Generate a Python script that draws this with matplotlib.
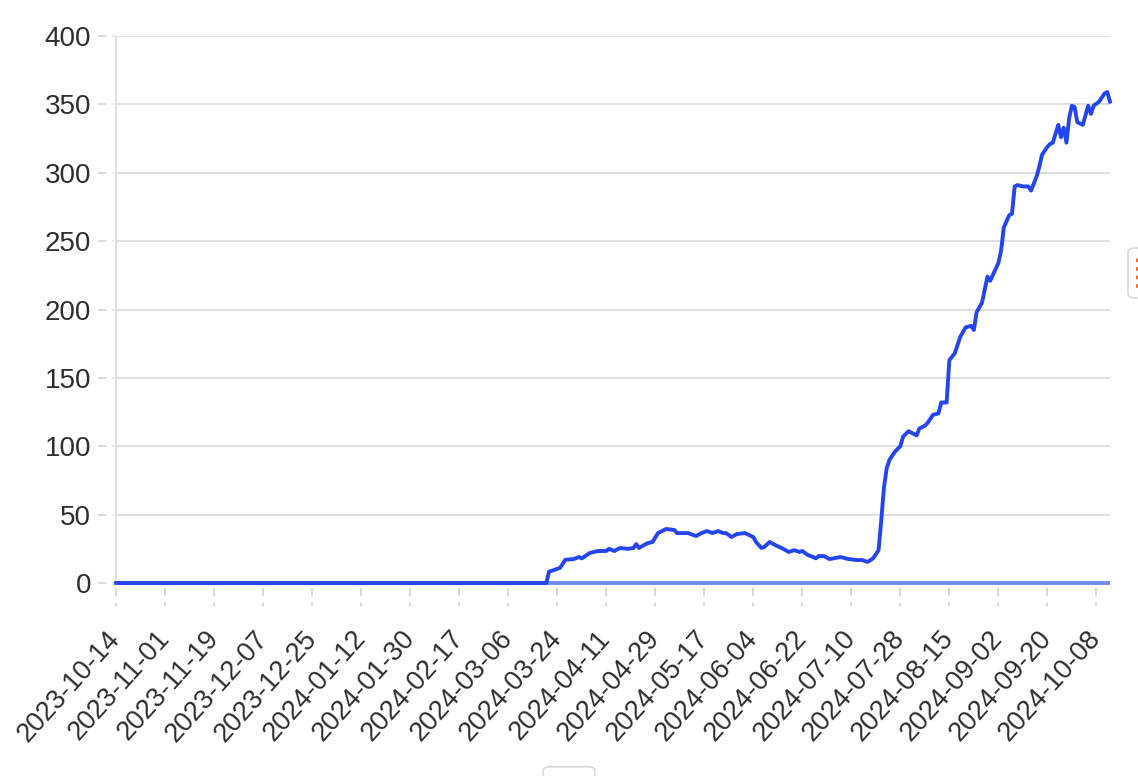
import numpy as np
import pandas as pd
import matplotlib
matplotlib.use('Agg')
import matplotlib.pyplot as plt
import matplotlib.dates as mdates
from matplotlib.patches import FancyBboxPatch

plt.rcParams['font.family'] = ['Liberation Sans', 'DejaVu Sans']

# --- data ---
start_date = '2023-10-14'
end_date = '2024-10-13'

day_offset = [0, 158, 159, 163, 165, 168, 170, 171, 174, 177, 180, 181, 183, 185,
              188, 190, 191, 192, 195, 197, 199, 202, 205, 206, 210, 213, 215, 217,
              219, 221, 223, 224, 226, 228, 231, 234, 235, 237, 238, 240, 242, 245,
              247, 249, 251, 252, 254, 256, 257, 258, 260, 262, 266, 269, 272, 274,
              276, 278, 280, 281, 282, 283, 284, 286, 288, 289, 291, 294, 295, 297,
              298, 300, 302, 303, 305, 306, 308, 310, 312, 314, 315, 316, 318, 320,
              321, 324, 325, 326, 328, 329, 330, 331, 333, 335, 336, 338, 339, 340,
              342, 343, 344, 346, 347, 348, 349, 350, 351, 352, 353, 355, 357, 358,
              359, 361, 363, 364, 365]
values = [0, 0, 8.3, 11, 17, 17.5, 19, 18, 22, 23.4, 23.4, 25, 23.4, 25.6,
          25, 25.6, 28.5, 25.6, 29, 30, 36.5, 39.5, 38.8, 36.5, 36.5, 34.4, 36.5, 38,
          36.5, 38, 36.5, 36.5, 33.6, 35.8, 36.5, 33.6, 30, 25.6, 26.3, 30, 27.8, 25,
          22.7, 24, 22.7, 23.4, 20.5, 19, 18, 19.7, 19.7, 17.5, 19, 17.5, 16.8, 16.8,
          15.4, 18, 24, 46, 70, 84, 90, 96, 100, 107, 111, 108, 113, 115,
          117, 123, 124, 132, 132, 163, 168, 180, 187, 188, 185, 198, 205, 224,
          221, 234, 243, 260, 269, 270, 290, 291, 290, 290, 287, 297, 304, 313,
          319, 321, 322, 335, 326, 333, 322, 340, 349, 348, 337, 335, 349, 343,
          349, 352, 358, 359, 352]
baseline = [0, 0]

x_ticks = ['2023-10-14', '2023-11-01', '2023-11-19', '2023-12-07', '2023-12-25',
           '2024-01-12', '2024-01-30', '2024-02-17', '2024-03-06', '2024-03-24',
           '2024-04-11', '2024-04-29', '2024-05-17', '2024-06-04', '2024-06-22',
           '2024-07-10', '2024-07-28', '2024-08-15', '2024-09-02', '2024-09-20',
           '2024-10-08']
y_ticks = [0, 50, 100, 150, 200, 250, 300, 350, 400]

dates = pd.Timestamp(start_date) + pd.to_timedelta(day_offset, unit='D')
base_dates = pd.to_datetime([start_date, end_date])
tick_dates = pd.to_datetime(x_ticks)

# --- style ---
line_blue = '#2446F0'
base_blue = '#6F8DEF'
grid_col = '#DADADA'
text_col = '#2E2E2E'

fig = plt.figure(figsize=(11.38, 7.76), dpi=100)
ax = fig.add_axes([0.102, 0.2487, 0.8734, 0.7049])

ax.plot(base_dates, baseline, color=base_blue, lw=2.8, clip_on=False, zorder=2, solid_capstyle='butt')
ax.plot(dates, values, color=line_blue, lw=2.8, clip_on=False, zorder=3,
        solid_joinstyle='round')

ax.set_xlim(base_dates[0], base_dates[1])
ax.set_ylim(0, 400)
ax.set_yticks(y_ticks)
ax.set_xticks(tick_dates)
ax.xaxis.set_major_formatter(mdates.DateFormatter('%Y-%m-%d'))

ax.grid(axis='y', color=grid_col, lw=1.2)
ax.set_axisbelow(True)
for s in ['top', 'right', 'bottom']:
    ax.spines[s].set_visible(False)
ax.spines['left'].set_color(grid_col)
ax.spines['left'].set_linewidth(1.2)

ax.tick_params(axis='both', length=0, labelsize=19.5, colors=text_col)
ax.tick_params(axis='y', pad=18, labelsize=20)
ax.tick_params(axis='x', pad=37)
for lab in ax.get_xticklabels():
    lab.set_rotation(48)
    lab.set_ha('right')
    lab.set_va('center')
    lab.set_rotation_mode('anchor')

# dashed tick marks
xt = ax.get_xaxis_transform()
ax.vlines(tick_dates, -0.010, -0.042, transform=xt, colors=grid_col, lw=1.5,
          linestyles=(0, (4, 3)), clip_on=False)
yt = ax.get_yaxis_transform()
ax.hlines(y_ticks, -0.018, -0.002, transform=yt, colors=grid_col, lw=1.5,
          linestyles=(0, (4, 3)), clip_on=False)

# small cut-off ui boxes at the edges
fig.patches.append(FancyBboxPatch((1128 / 1138, 1 - 298 / 776), 0.03, 50 / 776,
                                  boxstyle='round,pad=0,rounding_size=0.006',
                                  transform=fig.transFigure, fc='white', ec='#D8D8D8', lw=1.2))
fig.lines.append(plt.Line2D([1137 / 1138, 1137 / 1138], [1 - 258 / 776, 1 - 289 / 776],
                            transform=fig.transFigure, color='#E8743B', lw=2.2,
                            linestyle=(0, (1.2, 1.6))))
fig.patches.append(FancyBboxPatch((543 / 1138, -0.01), 52 / 1138, 0.022,
                                  boxstyle='round,pad=0,rounding_size=0.006',
                                  transform=fig.transFigure, fc='white', ec='#D8D8D8', lw=1.2))

fig.savefig('out.png', dpi=100)
